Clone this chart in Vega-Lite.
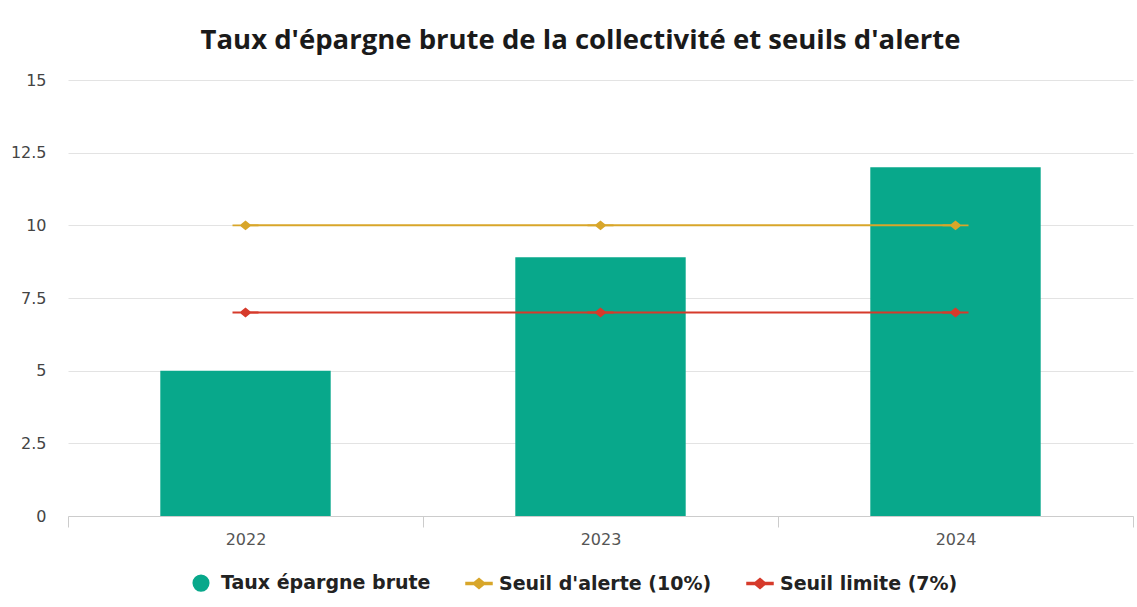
{
  "$schema": "https://vega.github.io/schema/vega-lite/v6.json",
  "width": 1065,
  "height": 436,
  "autosize": {"type": "none"},
  "padding": {"left": 68, "top": 80, "right": 4, "bottom": 91},
  "background": "white",
  "title": {
    "text": "Taux d'épargne brute de la collectivité et seuils d'alerte",
    "font": "Open Sans",
    "fontSize": 27.5,
    "fontWeight": "bold",
    "color": "#1a1a1a",
    "anchor": "middle",
    "dx": -20,
    "offset": 18
  },
  "data": {
    "values": [
      {"annee": "2022", "serie": "Taux épargne brute", "valeur": 5.0},
      {"annee": "2023", "serie": "Taux épargne brute", "valeur": 8.9},
      {"annee": "2024", "serie": "Taux épargne brute", "valeur": 12.0},
      {"annee": "2022", "serie": "Seuil d'alerte (10%)", "valeur": 10},
      {"annee": "2023", "serie": "Seuil d'alerte (10%)", "valeur": 10},
      {"annee": "2024", "serie": "Seuil d'alerte (10%)", "valeur": 10},
      {"annee": "2022", "serie": "Seuil limite (7%)", "valeur": 7},
      {"annee": "2023", "serie": "Seuil limite (7%)", "valeur": 7},
      {"annee": "2024", "serie": "Seuil limite (7%)", "valeur": 7}
    ]
  },
  "encoding": {
    "x": {
      "field": "annee",
      "type": "nominal",
      "title": null,
      "scale": {"paddingInner": 0, "paddingOuter": 0},
      "axis": {
        "labelAngle": 0,
        "labelFont": "DejaVu Sans",
        "labelFontSize": 16,
        "labelColor": "#555555",
        "labelPadding": 4,
        "domainColor": "#cccccc",
        "tickColor": "#cccccc",
        "tickSize": 11,
        "tickBand": "extent",
        "grid": false
      }
    },
    "y": {
      "field": "valeur",
      "type": "quantitative",
      "title": null,
      "scale": {"domain": [0, 15], "nice": false},
      "axis": {
        "values": [0, 2.5, 5, 7.5, 10, 12.5, 15],
        "format": ".1~f",
        "labelFont": "DejaVu Sans",
        "labelFontSize": 16,
        "labelColor": "#444444",
        "labelPadding": 22,
        "domain": false,
        "ticks": false,
        "grid": true,
        "gridColor": "#e3e3e3"
      }
    },
    "color": {
      "field": "serie",
      "type": "nominal",
      "title": null,
      "scale": {
        "domain": ["Taux épargne brute", "Seuil d'alerte (10%)", "Seuil limite (7%)"],
        "range": ["#08a88b", "#d8a62a", "#d63a2b"]
      },
      "legend": {
        "orient": "none",
        "legendX": 119,
        "legendY": 489,
        "direction": "horizontal",
        "title": null,
        "labelFont": "DejaVu Sans",
        "labelFontSize": 19,
        "labelFontWeight": "bold",
        "labelColor": "#222222",
        "labelLimit": 400,
        "symbolSize": 676,
        "labelOffset": 6,
        "columnPadding": 32
      }
    }
  },
  "layer": [
    {
      "transform": [{"filter": "datum.serie === 'Taux épargne brute'"}],
      "mark": {"type": "bar", "width": {"band": 0.48}}
    },
    {
      "transform": [{"filter": "datum.serie !== 'Taux épargne brute'"}],
      "mark": {"type": "line", "strokeWidth": 2}
    },
    {
      "transform": [{"filter": "datum.serie !== 'Taux épargne brute'"}],
      "mark": {"type": "point", "filled": true, "opacity": 1, "size": 676},
      "encoding": {
        "shape": {
          "field": "serie",
          "type": "nominal",
          "title": null,
          "scale": {
            "domain": ["Taux épargne brute", "Seuil d'alerte (10%)", "Seuil limite (7%)"],
            "range": [
              "M-0.6,0A0.6,0.6,0,1,0,0.6,0A0.6,0.6,0,1,0,-0.6,0Z",
              "M-1,-0.07L-0.38,-0.07L0,-0.38L0.38,-0.07L1,-0.07L1,0.07L0.38,0.07L0,0.38L-0.38,0.07L-1,0.07Z",
              "M-1,-0.07L-0.38,-0.07L0,-0.38L0.38,-0.07L1,-0.07L1,0.07L0.38,0.07L0,0.38L-0.38,0.07L-1,0.07Z"
            ]
          },
          "legend": {
            "orient": "none",
            "legendX": 119,
            "legendY": 489,
            "direction": "horizontal",
            "title": null,
            "labelFont": "DejaVu Sans",
            "labelFontSize": 19,
            "labelFontWeight": "bold",
            "labelColor": "#222222",
            "labelLimit": 400,
            "symbolSize": 676,
            "labelOffset": 6,
            "columnPadding": 32
          }
        }
      }
    }
  ],
  "config": {
    "view": {"stroke": null}
  }
}
